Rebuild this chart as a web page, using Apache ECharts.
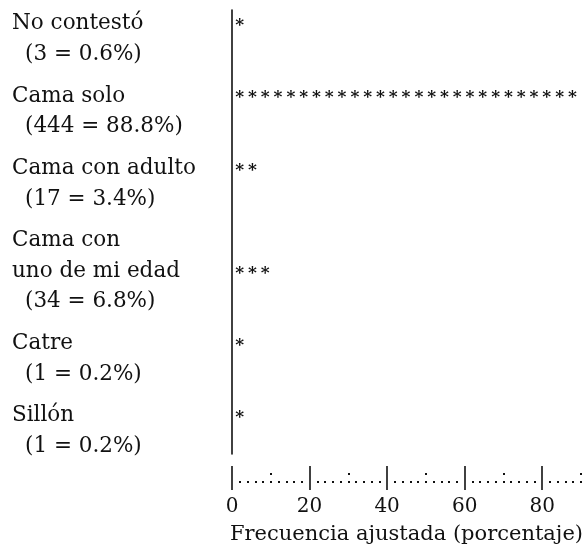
<!DOCTYPE html>
<html>
<head>
<meta charset="utf-8">
<script src="https://cdn.jsdelivr.net/npm/echarts@6/dist/echarts.min.js"></script>
<style>
html,body{margin:0;padding:0;background:#fff;}
#chart{width:588px;height:550px;}
</style>
</head>
<body>
<div id="chart"></div>
<script>
// ---- data ----
var categories = ['No contestó', 'Cama solo', 'Cama con adulto', 'Cama con\nuno de mi edad', 'Catre', 'Sillón'];
var counts = [3, 444, 17, 34, 1, 1];
var percents = [0.6, 88.8, 3.4, 6.8, 0.2, 0.2];
var tickValues = [0, 20, 40, 60, 80];
var tickLabels = ['0', '20', '40', '60', '80'];
var colonValues = [10, 30, 50, 70, 90];
var asteriskUnit = 3.3;   // percent represented by one asterisk
var axisTitle = 'Frecuencia ajustada (porcentaje)';

// ---- derived layout (text lines) ----
var blockGap = 0.35;
var rows = [];
var pos = 0;
categories.forEach(function (c, i) {
  var nameLines = c.split('\n');
  var lines = nameLines.concat(['(' + counts[i] + ' = ' + percents[i].toFixed(1) + '%)']);
  rows.push({ start: pos, lines: lines, starRow: pos + nameLines.length - 1 });
  pos += lines.length + blockGap;
});

var dotValues = [];
for (var v = 2; v <= 90; v += 2) {
  if (tickValues.indexOf(v) < 0) dotValues.push(v);
}

var font = 'DejaVu Serif';
var ink = '#111111';

var chart = echarts.init(document.getElementById('chart'));

function tickAxis(offset, values, len, width) {
  return {
    type: 'value', min: 0, max: 90, position: 'bottom', offset: offset,
    axisLine: { show: false, onZero: false },
    axisTick: { show: true, customValues: values, length: len, lineStyle: { color: ink, width: width } },
    axisLabel: { show: false },
    splitLine: { show: false }
  };
}

var option = {
  animation: false,
  backgroundColor: '#fff',
  grid: { left: 232, right: 7, top: 10, bottom: 95 },
  xAxis: [
    {
      type: 'value', min: 0, max: 90, position: 'bottom', offset: 12,
      axisLine: { show: false, onZero: false },
      axisTick: { show: true, customValues: tickValues, length: 24, lineStyle: { color: ink, width: 1.6 } },
      axisLabel: {
        show: true, customValues: tickValues, margin: 31,
        fontFamily: font, fontSize: 20, color: ink,
        formatter: function (val) { var k = tickValues.indexOf(val); return k >= 0 ? tickLabels[k] : ''; }
      },
      splitLine: { show: false },
      name: axisTitle, nameLocation: 'middle', nameGap: 58,
      nameTextStyle: { fontFamily: font, fontSize: 21, color: ink }
    },
    tickAxis(27, dotValues, 2, 2),
    tickAxis(19, colonValues, 2, 2)
  ],
  yAxis: {
    type: 'value', inverse: true, min: -0.45, max: 14.0,
    axisLine: { show: true, onZero: false, lineStyle: { color: ink, width: 1.6 } },
    axisTick: { show: false },
    axisLabel: { show: false },
    splitLine: { show: false }
  },
  series: [{
    type: 'custom',
    xAxisIndex: 0,
    yAxisIndex: 0,
    clip: false,
    data: percents.map(function (p, i) { return [p, rows[i].starRow]; }),
    renderItem: function (params, api) {
      var i = params.dataIndex;
      var r = rows[i];
      var children = [];
      r.lines.forEach(function (t, k) {
        var y = api.coord([0, r.start + k])[1];
        var isParen = k === r.lines.length - 1;
        children.push({
          type: 'text',
          style: {
            text: t, x: isParen ? 25 : 12, y: y,
            fill: ink, font: '21.5px "' + font + '"',
            textAlign: 'left', textVerticalAlign: 'middle'
          }
        });
      });
      var n = Math.ceil(api.value(0) / asteriskUnit);
      for (var j = 0; j < n; j++) {
        var pt = api.coord([(j + 0.6) * asteriskUnit, api.value(1)]);
        children.push({
          type: 'text',
          style: {
            text: '*', x: pt[0], y: pt[1] + 2,
            fill: ink, font: 'bold 17px "' + font + '"',
            textAlign: 'center', textVerticalAlign: 'middle'
          }
        });
      }
      return { type: 'group', children: children };
    }
  }]
};
chart.setOption(option);
</script>
</body>
</html>
